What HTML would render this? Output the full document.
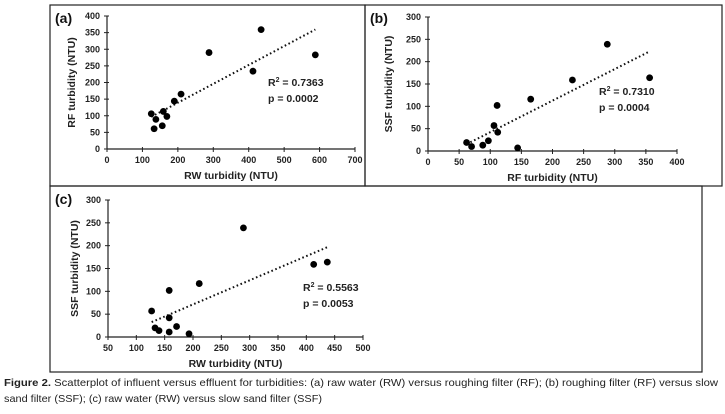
<!DOCTYPE html>
<html><head><meta charset="utf-8"><style>
body{margin:0;background:#fff;width:725px;height:414px;overflow:hidden;font-family:"Liberation Sans",sans-serif}
svg{position:absolute;left:0;top:0}
</style></head><body>
<svg id="s" width="725" height="414">
<text x="4" y="386" font-size="10.5" fill="#222" textLength="714" lengthAdjust="spacingAndGlyphs"><tspan font-weight="bold">Figure 2.</tspan> Scatterplot of influent versus effluent for turbidities: (a) raw water (RW) versus roughing filter (RF); (b) roughing filter (RF) versus slow</text>
<text x="4" y="402" font-size="10.5" fill="#222" textLength="318" lengthAdjust="spacingAndGlyphs">sand filter (SSF); (c) raw water (RW) versus slow sand filter (SSF)</text>
</svg>
<script>
const aX=[125,133,138,159,156,169,190,209,288,412,435,588];
const aY=[106,61,89,113,70,98,144,165,290,234,359,283];
const bX=[62,70,88,97,106,112,111,144,165,232,288,356];
const bY=[19,10,13,23,57,42,102,7,116,159,239,164];
const cX=[127,133,140,158,158,158,171,193,211,289,413,437];
const cY=[57,20,14,11,102,42,23,7,117,239,159,164];
const aXt=[0,100,200,300,400,500,600,700], aYt=[0,50,100,150,200,250,300,350,400];
const bXt=[0,50,100,150,200,250,300,350,400], bYt=[0,50,100,150,200,250,300];
const cXt=[50,100,150,200,250,300,350,400,450,500], cYt=[0,50,100,150,200,250,300];
const aStats=["0.7363","p = 0.0002"], bStats=["0.7310","p = 0.0004"], cStats=["0.5563","p = 0.0053"];

const s=document.getElementById('s');
const NS='http://www.w3.org/2000/svg';
function el(t,a,txt){const e=document.createElementNS(NS,t);for(const k in a)e.setAttribute(k,a[k]);if(txt!==undefined)e.textContent=txt;s.appendChild(e);return e;}
function panel(id,box,px,py,xs,ys,xt,yt,xl,yl,st,stPos,xtl,ytl){
 const r=el('rect',{x:box[0],y:box[1],width:box[2],height:box[3],fill:'none',stroke:'#222','stroke-width':1.2});
 
 
 const X=v=>px[0]+(v-xt[0])/(xt[xt.length-1]-xt[0])*(px[1]-px[0]);
 const Y=v=>py[0]-(v-yt[0])/(yt[yt.length-1]-yt[0])*(py[0]-py[1]);
 let e=el('line',{x1:px[0],x2:px[1],y1:py[0],y2:py[0],stroke:'#222','stroke-width':1.2});
 
 
 e=el('line',{x1:px[0],x2:px[0],y1:py[0],y2:py[1],stroke:'#222','stroke-width':1.2});
 
 
 xt.forEach(v=>{el('line',{x1:X(v),x2:X(v),y1:py[0]-2,y2:py[0]+3,stroke:'#222'});
  const t=el('text',{x:X(v),y:py[0]+14,'text-anchor':'middle','font-size':9,'font-weight':'bold',fill:'#222'},v);
  
  });
 yt.forEach(v=>{el('line',{x1:px[0]-3,x2:px[0]+2,y1:Y(v),y2:Y(v),stroke:'#222'});
  const t=el('text',{x:px[0]-7,y:Y(v)+3,'text-anchor':'end','font-size':9,'font-weight':'bold',fill:'#222'},v);
  
  });
 const n=xs.length,mx=xs.reduce((a,b)=>a+b)/n,my=ys.reduce((a,b)=>a+b)/n;
 let sxy=0,sxx=0;for(let i=0;i<n;i++){sxy+=(xs[i]-mx)*(ys[i]-my);sxx+=(xs[i]-mx)**2;}
 const b=sxy/sxx,a=my-b*mx,x0=Math.min(...xs),x1=Math.max(...xs);
 e=el('line',{x1:X(x0),y1:Y(a+b*x0),x2:X(x1),y2:Y(a+b*x1),stroke:'#111','stroke-width':2,'stroke-dasharray':'1.6 2.6'});
 
 
 for(let i=0;i<n;i++){const c=el('circle',{cx:X(xs[i]),cy:Y(ys[i]),r:3.4,fill:'#000'});
  
  }
 e=el('text',{x:box[0]+5,y:box[1]+18,'font-size':14,'font-weight':'bold',fill:'#111'},'('+id+')');
 
 
 e=el('text',{x:(px[0]+px[1])/2,y:xtl,'text-anchor':'middle','font-size':10.5,'font-weight':'bold',fill:'#222'},xl);
 
 
 const cy=(py[0]+py[1])/2;
 e=el('text',{x:ytl,y:cy,'text-anchor':'middle','font-size':10.5,'font-weight':'bold',fill:'#222',transform:`rotate(-90 ${ytl} ${cy})`},yl);
 
 
 e=el('text',{x:stPos[0],y:stPos[1],'font-size':10.5,'font-weight':'bold',fill:'#222'});
 e.innerHTML='R<tspan font-size="7" dy="-4">2</tspan><tspan dy="4"> = '+st[0]+'</tspan>';
 
 
 e=el('text',{x:stPos[0],y:stPos[1]+16,'font-size':10.5,'font-weight':'bold',fill:'#222'},st[1]);
 
 
}
panel('a',[50,5,315,181],[107,355],[149,16],aX,aY,aXt,aYt,'RW turbidity (NTU)','RF turbidity (NTU)',aStats,[268,86],179,75);
panel('b',[365,5,357,181],[428,677],[151,17],bX,bY,bXt,bYt,'RF turbidity (NTU)','SSF turbidity (NTU)',bStats,[599,95],181,392);
panel('c',[50,186,652,186],[108,363],[337,200],cX,cY,cXt,cYt,'RW turbidity (NTU)','SSF turbidity (NTU)',cStats,[303,291],367,78);
</script>
</body></html>
